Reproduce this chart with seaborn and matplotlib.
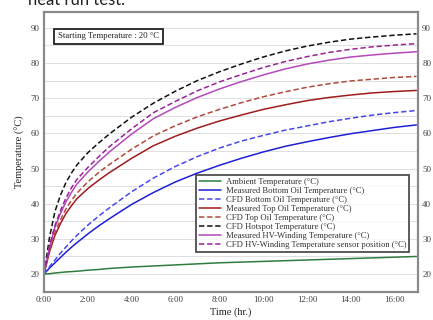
import numpy as np
import matplotlib
matplotlib.use("Agg")
import matplotlib.pyplot as plt
import seaborn as sns
import pandas as pd

# Temps (h) et températures (°C)
temps = [0, 0.25, 0.5, 0.75, 1, 1.25, 1.5, 2, 2.5, 3, 4, 5, 6, 7, 8, 9, 10, 11, 12, 13, 14, 15, 16, 17]

ambiant = [20, 20.1, 20.3, 20.45, 20.6, 20.7, 20.8, 21.1, 21.3, 21.6, 22.0, 22.3, 22.6, 22.9, 23.2,
           23.4, 23.6, 23.8, 24.0, 24.2, 24.4, 24.6, 24.8, 25.0]
huile_bas_mes = [20, 21.7, 23.2, 24.7, 26.2, 27.6, 28.9, 31.4, 33.7, 35.8, 39.8, 43.2, 46.2, 48.7,
                 50.9, 52.9, 54.7, 56.3, 57.6, 58.8, 59.9, 60.8, 61.7, 62.4]
huile_bas_cfd = [20, 22.1, 24.0, 25.9, 27.7, 29.4, 31.0, 33.9, 36.5, 38.9, 43.4, 47.3, 50.6, 53.4,
                 55.8, 57.8, 59.4, 60.9, 62.1, 63.3, 64.3, 65.2, 65.9, 66.5]
huile_haut_mes = [20, 26.3, 31.0, 34.3, 37.2, 39.4, 41.4, 44.3, 46.7, 48.9, 52.9, 56.5, 59.2, 61.5,
                  63.5, 65.2, 66.8, 68.1, 69.3, 70.2, 70.9, 71.5, 71.9, 72.2]
huile_haut_cfd = [20, 26.8, 31.8, 35.4, 38.5, 40.9, 43.0, 46.2, 48.9, 51.2, 55.5, 59.3, 62.2, 64.7,
                  66.8, 68.7, 70.4, 71.8, 73.1, 74.1, 74.9, 75.4, 75.9, 76.2]
point_chaud_cfd = [20, 30.4, 37.8, 42.4, 46.0, 48.7, 51.0, 54.5, 57.3, 59.9, 64.6, 68.6, 72.0, 75.0,
                   77.5, 79.7, 81.7, 83.4, 84.8, 85.9, 86.8, 87.4, 87.9, 88.3]
bobinage_mes = [20, 27.6, 33.3, 37.2, 40.5, 43.2, 45.6, 49.0, 52.0, 54.8, 59.8, 64.2, 67.4, 70.2,
                72.6, 74.7, 76.6, 78.3, 79.7, 80.8, 81.7, 82.3, 82.8, 83.2]
bobinage_cfd = [20, 28.0, 33.8, 38.0, 41.6, 44.5, 46.9, 50.3, 53.4, 56.3, 61.3, 65.9, 69.1, 72.1,
                74.6, 76.7, 78.7, 80.4, 81.8, 83.0, 83.9, 84.6, 85.1, 85.5]

etiquettes_x = ["0:00", "2:00", "4:00", "6:00", "8:00", "10:00", "12:00", "14:00", "16:00"]
ticks_y = [20, 30, 40, 50, 60, 70, 80, 90]

series = [
    ("Ambient Temperature (°C)", ambiant, "#2e7d3e", "-"),
    ("Measured Bottom Oil Temperature (°C)", huile_bas_mes, "#1f1fd6", "-"),
    ("CFD Bottom Oil Temperature (°C)", huile_bas_cfd, "#4747ee", "--"),
    ("Measured Top Oil Temperature (°C)", huile_haut_mes, "#a01c1c", "-"),
    ("CFD Top Oil Temperature (°C)", huile_haut_cfd, "#b04a3a", "--"),
    ("CFD Hotspot Temperature (°C)", point_chaud_cfd, "#111111", "--"),
    ("Measured HV-Winding Temperature (°C)", bobinage_mes, "#b448bc", "-"),
    ("CFD HV-Winding Temperature sensor position (°C)", bobinage_cfd, "#9a2494", "--"),
]

sns.set_style("white")
plt.rcParams['font.family'] = ['Liberation Serif', 'DejaVu Serif']

fig = plt.figure(figsize=(4.33, 3.2), dpi=100)
ax = fig.add_axes([44 / 433, 28 / 320, 374 / 433, 280 / 320])

# Grille horizontale tous les 5 °C
for v in np.arange(20, 95, 5):
    ax.axhline(v, color="#dadada", lw=0.6, zorder=0)

for nom, valeurs, couleur, style in series:
    sns.lineplot(x=temps, y=valeurs, ax=ax, color=couleur, linestyle=style, lw=1.1,
                 label=nom, dashes=False)

for line in ax.get_lines()[-len(series):]:
    if line.get_linestyle() == "--":
        line.set_dashes((3.5, 1.8))

ax.set_xlim(0, 17.07)
ax.set_ylim(14.9, 94.5)
ax.set_xticks(range(0, 17, 2))
ax.set_xticklabels(etiquettes_x)
ax.set_yticks(ticks_y)
ax.tick_params(axis="both", labelsize=6.5, colors="#444444", length=0, pad=3)
ax.tick_params(axis="y", labelright=True)
for s in ax.spines.values():
    s.set_color("#8a8a8a")
    s.set_linewidth(1.6)

ax.set_xlabel("Time (hr.)", fontsize=7.5, labelpad=2)
ax.set_ylabel("Temperature (°C)", fontsize=7.5, labelpad=4)

ax.text(0.037, 0.9125, "Starting Temperature : 20 °C", transform=ax.transAxes,
        fontsize=6.3, va="center", ha="left", color="#222222",
        bbox=dict(boxstyle="square,pad=0.45", fc="white", ec="#222222", lw=1.3))

leg = ax.legend(loc="upper left", bbox_to_anchor=(0.406, 0.418), fontsize=6.2,
                frameon=True, fancybox=False, handlelength=2.6, labelspacing=0.12,
                borderpad=0.35, handletextpad=0.5, borderaxespad=0)
leg.get_frame().set_edgecolor("#222222")
leg.get_frame().set_linewidth(1.3)
for t in leg.get_texts():
    t.set_color("#333333")

fig.text(28 / 433, 1 - 5 / 320, "heat run test.", fontsize=12, family=["Lato", "DejaVu Sans"],
         va="baseline", ha="left", color="#222222")

fig.savefig("out.png", dpi=100)
